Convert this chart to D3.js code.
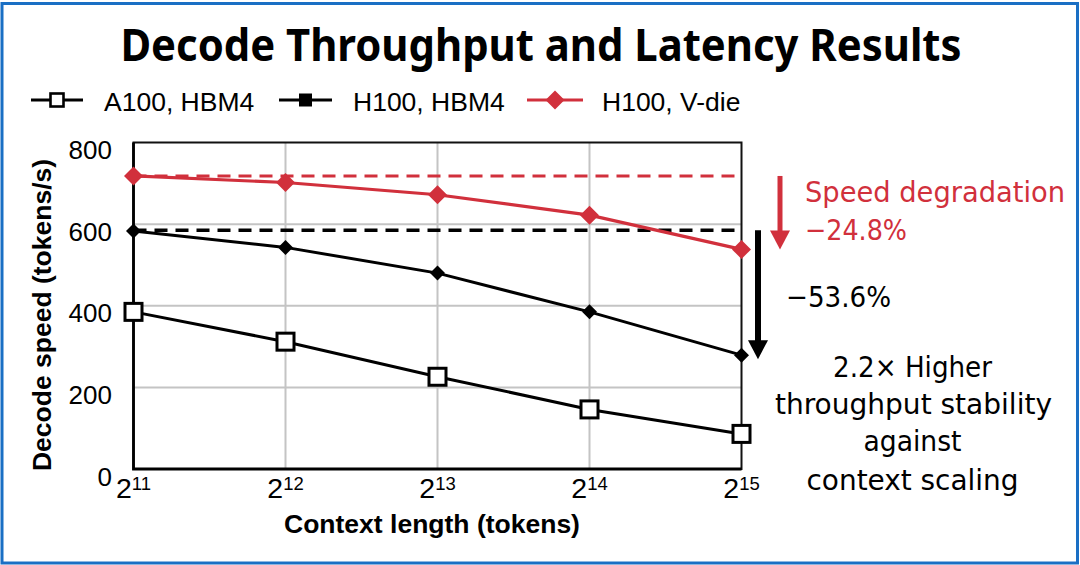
<!DOCTYPE html>
<html lang="en">
<head>
<meta charset="UTF-8">
<title>Decode Throughput and Latency Results</title>
<script src="https://cdn.jsdelivr.net/npm/d3@7/dist/d3.min.js"></script>
<style>
  body { margin: 0; background: #fff; }
  svg { display: block; }
</style>
</head>
<body>
<script>
// values
const contextLengths = [2048, 4096, 8192, 16384, 32768];
const xTickExps = [11, 12, 13, 14, 15];
const a100Hbm4 = [385, 312, 226, 146, 86];
const h100Hbm4 = [583, 543, 480, 385, 279];
const h100Vdie = [718, 702, 672, 622, 538];
const h100Hbm4Ref = 585;   // dashed reference line
const h100VdieRef = 718;
const yTicks = [0, 200, 400, 600, 800];
const legendLabels = ["A100, HBM4", "H100, HBM4", "H100, V-die"];
const noteRed = ["Speed degradation", "\u221224.8%"];
const noteBlack = "\u221253.6%";
const noteStability = ["2.2\u00d7 Higher", "throughput stability", "against", "context scaling"];

const width = 1080, height = 565;
const red = "#d1303c";
const annoFont = "'DejaVu Sans Condensed', 'DejaVu Sans', sans-serif";
const titleFont = "'Noto Sans', 'Open Sans', sans-serif";
const arial = "'Liberation Sans', Arial, sans-serif";

const svg = d3.select("body").append("svg")
    .attr("width", width)
    .attr("height", height);

// blue frame round the slide
svg.append("rect")
    .attr("x", 2).attr("y", 3.5)
    .attr("width", width - 4.5).attr("height", height - 5.5)
    .attr("fill", "#fff")
    .attr("stroke", "#1a6fc4")
    .attr("stroke-width", 3);

// scales
const x = d3.scaleLog().base(2)
    .domain([contextLengths[0], contextLengths[contextLengths.length - 1]])
    .range([133.5, 741.5]);
const y = d3.scaleLinear().domain([0, 800]).range([469, 142.5]);

// title
svg.append("text")
    .attr("x", 541).attr("y", 60.5)
    .attr("text-anchor", "middle")
    .attr("font-family", titleFont)
    .attr("font-weight", "bold")
    .attr("font-size", 45)
    .attr("textLength", 841)
    .attr("lengthAdjust", "spacingAndGlyphs")
    .text("Decode Throughput and Latency Results");

// grid
const grid = svg.append("g").attr("stroke", "#c4c4c4").attr("stroke-width", 2);
grid.selectAll("line.v")
    .data(contextLengths.slice(1, -1))
    .join("line")
    .attr("x1", d => x(d)).attr("x2", d => x(d))
    .attr("y1", y(800)).attr("y2", y(0));
grid.selectAll("line.h")
    .data(yTicks.slice(1, -1))
    .join("line")
    .attr("x1", x.range()[0]).attr("x2", x.range()[1])
    .attr("y1", d => y(d)).attr("y2", d => y(d));

// dashed reference lines
svg.append("line")
    .attr("x1", x.range()[0]).attr("x2", x.range()[1])
    .attr("y1", y(h100VdieRef)).attr("y2", y(h100VdieRef))
    .attr("stroke", red).attr("stroke-width", 3)
    .attr("stroke-dasharray", "13,8");
svg.append("line")
    .attr("x1", x.range()[0]).attr("x2", x.range()[1])
    .attr("y1", y(h100Hbm4Ref)).attr("y2", y(h100Hbm4Ref))
    .attr("stroke", "#000").attr("stroke-width", 3.4)
    .attr("stroke-dasharray", "13,8");

// plot frame
svg.append("rect")
    .attr("x", x.range()[0]).attr("y", y(800))
    .attr("width", x.range()[1] - x.range()[0])
    .attr("height", y(0) - y(800))
    .attr("fill", "none")
    .attr("stroke", "#111").attr("stroke-width", 2);
svg.append("path")
    .attr("d", `M${x.range()[0]},${y(800)}V${y(0)}H${x.range()[1]}`)
    .attr("fill", "none").attr("stroke", "#000").attr("stroke-width", 2.8);

// y tick labels
svg.selectAll("text.ytick")
    .data(yTicks)
    .join("text")
    .attr("x", 112)
    .attr("y", d => y(d) + 16.5)
    .attr("text-anchor", "end")
    .attr("font-family", arial)
    .attr("font-size", 26)
    .text(d => d);

// x tick labels: 2 with superscript exponent
const xt = svg.selectAll("text.xtick")
    .data(xTickExps)
    .join("text")
    .attr("x", (d, i) => x(contextLengths[i]))
    .attr("y", 498)
    .attr("text-anchor", "middle")
    .attr("font-family", arial);
xt.append("tspan").attr("font-size", 28.5).text("2");
xt.append("tspan").attr("font-size", 18.5).attr("dy", -8).text(d => d);

// axis titles
svg.append("text")
    .attr("x", 432).attr("y", 533)
    .attr("text-anchor", "middle")
    .attr("font-family", arial)
    .attr("font-weight", "bold")
    .attr("font-size", 26.5)
    .text("Context length (tokens)");
svg.append("text")
    .attr("transform", "translate(51,315) rotate(-90)")
    .attr("text-anchor", "middle")
    .attr("font-family", arial)
    .attr("font-weight", "bold")
    .attr("font-size", 26.5)
    .text("Decode speed (tokens/s)");

// series lines
const line = d3.line()
    .x((d, i) => x(contextLengths[i]))
    .y(d => y(d));
svg.append("path").datum(a100Hbm4).attr("d", line)
    .attr("fill", "none").attr("stroke", "#000").attr("stroke-width", 3);
svg.append("path").datum(h100Hbm4).attr("d", line)
    .attr("fill", "none").attr("stroke", "#000").attr("stroke-width", 3);
svg.append("path").datum(h100Vdie).attr("d", line)
    .attr("fill", "none").attr("stroke", red).attr("stroke-width", 3.2);

// markers
svg.selectAll("rect.a100")
    .data(a100Hbm4)
    .join("rect")
    .attr("x", (d, i) => x(contextLengths[i]) - 8.5)
    .attr("y", d => y(d) - 8.5)
    .attr("width", 17).attr("height", 17)
    .attr("fill", "#fff").attr("stroke", "#000").attr("stroke-width", 3);

const diamond = s => `M0,${-s}L${s},0L0,${s}L${-s},0Z`;
svg.selectAll("path.h100")
    .data(h100Hbm4)
    .join("path")
    .attr("transform", (d, i) => `translate(${x(contextLengths[i])},${y(d)})`)
    .attr("d", diamond(7.5))
    .attr("fill", "#000");
svg.selectAll("path.vdie")
    .data(h100Vdie)
    .join("path")
    .attr("transform", (d, i) => `translate(${x(contextLengths[i])},${y(d)})`)
    .attr("d", diamond(9.5))
    .attr("fill", red);

// legend
const leg = svg.append("g");
const legX = [[31, 83, 104], [279, 332, 353], [527, 583, 602]];
legX.forEach(([x0, x1, tx], i) => {
    const mx = (x0 + x1) / 2;
    const col = i === 2 ? red : "#000";
    leg.append("line")
        .attr("x1", x0).attr("x2", x1).attr("y1", 100).attr("y2", 100)
        .attr("stroke", col).attr("stroke-width", 3);
    if (i === 0) {
        leg.append("rect").attr("x", mx - 6.5).attr("y", 93.5).attr("width", 13).attr("height", 13)
            .attr("fill", "#fff").attr("stroke", "#000").attr("stroke-width", 2.6);
    } else if (i === 1) {
        leg.append("rect").attr("x", mx - 6.5).attr("y", 93.5).attr("width", 13).attr("height", 13)
            .attr("fill", "#000");
    } else {
        leg.append("path").attr("transform", `translate(${mx},100)`)
            .attr("d", diamond(9.5)).attr("fill", red);
    }
    leg.append("text")
        .attr("x", tx).attr("y", 110.5)
        .attr("font-family", arial)
        .attr("font-size", 26.5)
        .text(legendLabels[i]);
});

// annotation arrows
function arrow(xc, y0, y1, col, shaft) {
    svg.append("line")
        .attr("x1", xc).attr("x2", xc)
        .attr("y1", y0).attr("y2", y1 - 18)
        .attr("stroke", col).attr("stroke-width", shaft);
    svg.append("path")
        .attr("d", `M${xc - 10},${y1 - 19}L${xc + 10},${y1 - 19}L${xc},${y1}Z`)
        .attr("fill", col);
}
arrow(780, y(h100VdieRef), y(h100Vdie[4]), red, 5);
arrow(758, y(h100Hbm4Ref), y(h100Hbm4[4]) + 4, "#000", 6);

// annotation texts
const notes = [
    { t: noteRed[0], x: 805, y: 201.5, w: 260, c: red, a: "start" },
    { t: noteRed[1], x: 805, y: 240, w: 102, c: red, a: "start" },
    { t: noteBlack, x: 786, y: 306.5, w: 105, c: "#000", a: "start" },
    { t: noteStability[0], x: 912.5, y: 376.5, w: 159, c: "#000", a: "middle" },
    { t: noteStability[1], x: 913.5, y: 413.5, w: 277, c: "#000", a: "middle" },
    { t: noteStability[2], x: 912.5, y: 451, w: 98, c: "#000", a: "middle" },
    { t: noteStability[3], x: 912.5, y: 489.5, w: 212, c: "#000", a: "middle" }
];
svg.selectAll("text.note")
    .data(notes)
    .join("text")
    .attr("x", d => d.x).attr("y", d => d.y)
    .attr("text-anchor", d => d.a)
    .attr("fill", d => d.c)
    .attr("font-family", annoFont)
    .attr("font-size", 29)
    .attr("textLength", d => d.w)
    .attr("lengthAdjust", "spacingAndGlyphs")
    .text(d => d.t);
</script>
</body>
</html>
